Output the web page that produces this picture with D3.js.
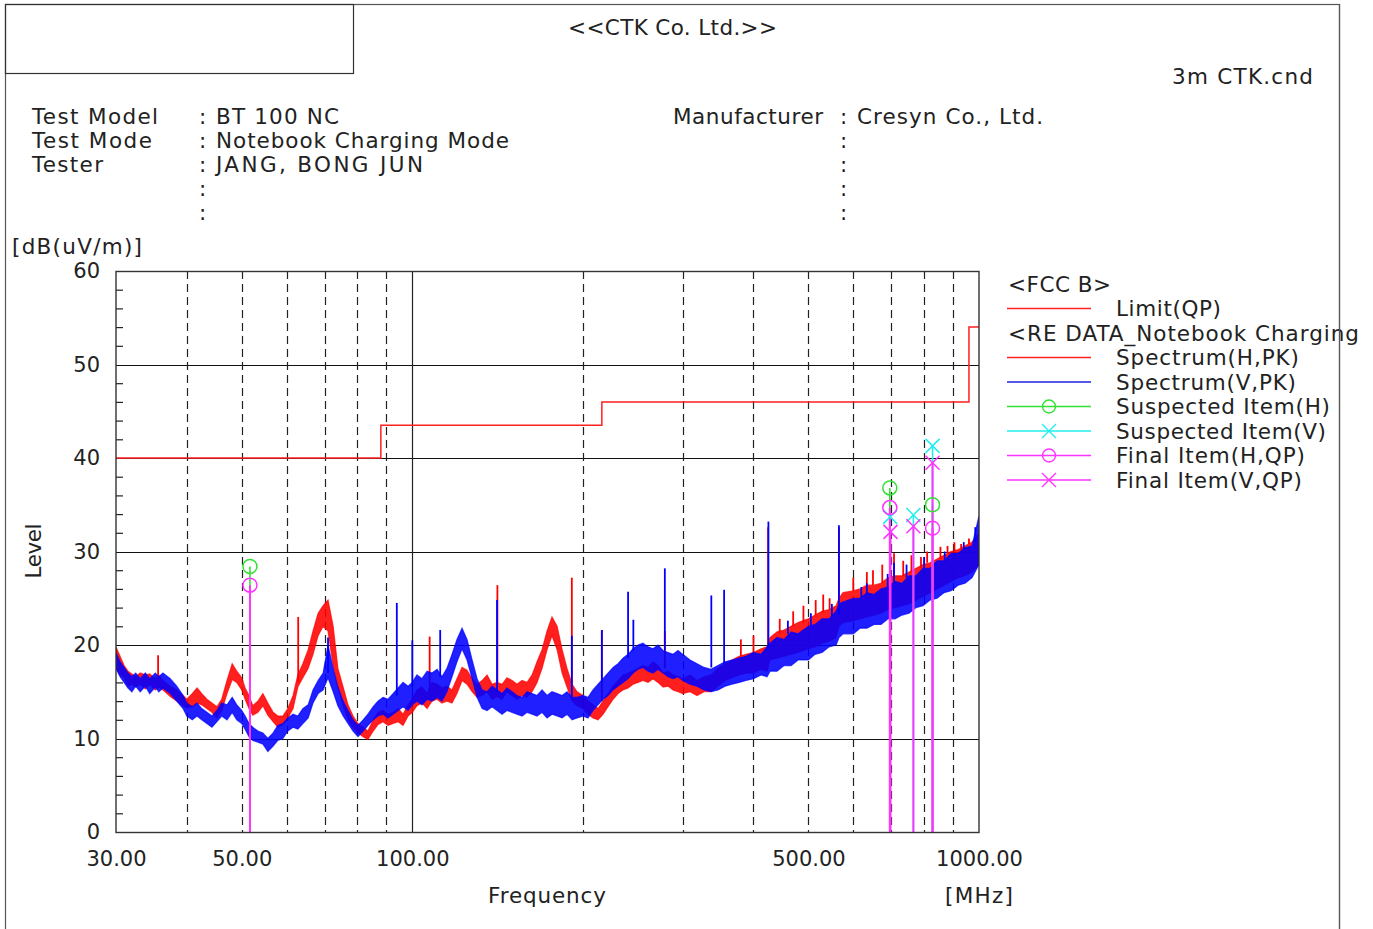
<!DOCTYPE html>
<html><head><meta charset="utf-8">
<script src="https://cdn.jsdelivr.net/npm/d3@7"></script>
<style>
body{margin:0;background:#fff;}
svg{display:block;}
text{font-family:"DejaVu Sans",sans-serif;fill:#222;}
</style>
</head><body>
<svg id="c" width="1373" height="929"></svg>
<script>
// ---------- DATA ----------
const xTicks = [30, 50, 100, 500, 1000];
const yTicks = [0, 10, 20, 30, 40, 50, 60];
const yMinor = [2,4,6,8,12,14,16,18,22,24,26,28,32,34,36,38,42,44,46,48,52,54,56,58];
const xGridDashed = [40,50,60,70,80,90,200,300,400,500,600,700,800,900];
const xGridSolid = [100];
const yGridSolid = [10,20,30,40,50];

// FCC B limit (QP): [MHz, dB]
const limitQP = [[30,40],[88,40],[88,43.5],[216,43.5],[216,46],[960,46],[960,54],[1000,54]];

// Spectrum noise envelope: [MHz, low dB, high dB]
const specH = [
[30.0,17.5,19.8],[30.5,16.8,18.8],[31.0,16.5,17.8],[31.5,15.6,17.2],[32.0,15.8,16.9],[32.5,15.5,16.6],[33.1,15.8,17.0],[33.8,15.3,16.8],[34.4,15.8,16.9],[35.2,15.2,16.4],
[35.7,15.5,16.8],[36.3,15.2,16.2],[37.4,14.5,15.6],[38.4,14.0,15.2],[39.4,13.5,14.6],[40.0,13.3,14.2],[40.9,13.4,14.8],[41.7,13.8,15.4],[42.5,13.6,14.8],[43.4,13.2,14.2],
[44.3,12.8,13.8],[45.2,12.2,13.4],[46.1,13.0,14.2],[47.1,14.8,16.2],[48.1,16.3,18.0],[49.0,16.0,17.2],[50.0,15.2,16.5],[50.7,14.2,15.4],[51.5,13.2,14.6],[52.3,12.5,13.5],
[53.4,12.8,14.0],[54.5,13.5,14.8],[55.6,12.5,13.8],[56.8,11.8,12.8],[57.9,11.2,12.4],[59.1,11.5,12.4],[60.3,12.2,13.2],[61.6,13.2,14.6],[62.8,15.5,16.8],[64.1,16.5,18.0],
[65.5,17.5,19.5],[66.8,19.0,21.5],[68.2,21.0,23.4],[69.6,22.0,24.2],[71.0,21.5,24.8],[72.5,17.8,22.0],[73.9,15.5,17.5],[75.5,13.5,15.5],[77.0,12.0,13.6],[78.6,11.2,12.4],
[80.2,10.6,11.6],[81.9,10.2,11.2],[83.5,9.9,10.8],[85.3,10.8,12.0],[87.0,11.5,12.8],[88.8,11.8,13.0],[90.6,11.4,12.6],[92.5,11.6,12.8],[94.4,11.8,13.2],[96.3,11.4,12.6],
[98.3,12.4,13.6],[100,12.8,14.2],[101.9,13.5,15.2],[104.0,13.8,15.5],[106.2,13.2,14.8],[108.3,14.0,16.0],[110.6,14.2,15.8],[112.8,13.8,15.4],[115.1,14.0,15.6],[117.5,13.8,15.2],
[119.9,14.8,16.4],[122.4,16.2,17.6],[124.9,15.8,17.3],[127.5,15.0,16.4],[130.1,14.4,15.8],[132.8,14.6,16.2],[135.5,15.0,16.8],[138.3,14.2,15.8],[141.1,14.5,16.0],[144.0,14.2,15.8],
[146.9,15.0,16.5],[150.0,14.6,16.2],[153.0,14.2,15.8],[156.2,14.6,16.2],[159.4,14.4,16.0],[162.7,15.0,16.8],[166.0,16.0,18.2],[169.4,17.5,19.5],[172.9,19.5,21.5],[176.4,21.0,23.0],
[180.1,19.5,22.0],[183.8,17.0,19.5],[187.5,15.5,17.5],[191.4,14.0,15.8],[195.3,13.5,15.0],[200,13.2,14.6],[204.2,12.6,14.0],[208.4,12.2,13.6],[212.7,12.0,13.2],[217.1,12.6,14.0],
[221.5,13.4,14.8],[226.1,14.2,15.6],[230.7,14.8,16.2],[235.4,15.2,16.8],[240.3,15.4,17.0],[245.2,15.8,17.2],[250.2,16.0,17.5],[255.3,16.2,17.8],[260.6,16.0,17.6],[265.9,16.4,18.2],
[271.4,16.0,17.8],[277.0,15.5,17.0],[282.7,15.6,17.2],[288.5,15.2,16.8],[294.4,15.0,16.6],[300,14.8,16.4],[309.1,15.0,16.8],[318.0,14.6,16.2],[327.2,15.0,16.6],[336.6,15.0,16.8],
[346.3,15.6,17.5],[356.3,16.2,18.0],[366.6,16.5,18.4],[377.2,16.8,18.8],[388.1,17.0,19.0],[400,17.0,19.2],[412.5,17.4,19.6],[422.7,17.2,19.8],[427.8,18.4,20.8],[440.2,18.6,21.4],
[452.9,18.8,21.6],[466.0,19.0,22.0],[479.4,19.2,22.4],[500,19.6,22.8],[513.7,19.8,23.2],[528.5,20.2,23.6],[543.8,20.4,23.8],[559.5,20.8,24.2],[566.2,22.0,25.0],[575.5,22.4,25.6],
[600,22.6,25.8],[616.6,22.8,26.0],[634.4,23.0,26.4],[652.7,23.2,26.4],[671.6,23.4,26.6],[691.0,23.8,27.2],[711.0,24.0,27.4],[731.5,24.2,27.4],[752.6,24.4,27.8],[774.3,24.8,28.2],
[796.7,25.2,28.6],[819.6,25.6,28.8],[843.3,26.0,29.2],[867.7,26.4,29.6],[892.6,26.8,30.0],[918.4,27.2,30.2],[944.9,27.4,30.6],[972.2,27.8,31.0],[1000,28.6,32.0]
];
const specV = [
[30.0,17.5,19.2],[30.5,16.6,18.2],[31.0,16.0,17.6],[31.5,15.4,17.0],[32.0,15.0,16.6],[32.5,15.6,17.0],[33.1,15.0,16.4],[33.8,15.6,17.0],[34.4,14.8,16.4],[35.2,15.5,17.0],
[35.7,15.0,16.6],[36.3,15.4,17.0],[37.4,14.8,16.4],[38.4,14.0,15.6],[39.4,13.2,14.6],[40.0,12.4,13.8],[40.9,12.0,13.4],[41.7,12.4,13.8],[42.5,12.0,13.2],[43.4,11.6,12.8],
[44.3,11.2,12.4],[45.2,11.8,13.0],[46.1,12.4,13.8],[47.1,12.0,13.6],[48.1,12.8,14.4],[49.0,12.0,13.6],[50.0,11.6,13.0],[50.7,11.0,12.4],[51.5,10.2,11.6],[52.3,9.8,11.2],
[53.4,9.6,10.8],[54.5,9.4,10.6],[55.6,8.6,10.0],[56.8,9.2,10.6],[57.9,9.8,11.4],[59.1,10.0,11.6],[60.3,10.8,12.2],[61.6,11.2,12.6],[62.8,11.0,12.4],[64.1,11.6,13.2],
[65.5,12.2,13.6],[66.8,13.8,15.2],[68.2,14.8,16.2],[69.6,15.2,17.0],[71.0,16.5,20.0],[72.5,15.0,17.5],[73.9,13.5,15.5],[75.5,12.4,14.0],[77.0,11.6,13.0],[78.6,10.8,12.0],
[80.2,10.2,11.4],[81.9,10.8,12.0],[83.5,11.4,12.6],[85.3,12.0,13.4],[87.0,12.4,14.0],[88.8,12.6,14.4],[90.6,12.2,14.2],[92.5,12.6,14.8],[94.4,13.0,15.4],[96.3,13.4,16.0],
[98.3,13.0,15.6],[100,13.6,16.0],[101.9,14.0,16.8],[104.0,13.6,16.4],[106.2,14.2,17.2],[108.3,14.0,17.0],[110.6,14.4,17.4],[112.8,14.0,16.6],[115.1,15.0,17.5],[117.5,16.6,19.0],
[119.9,18.2,20.6],[122.4,19.6,21.8],[124.9,18.4,20.6],[127.5,16.4,18.4],[130.1,14.4,16.4],[132.8,13.2,15.2],[135.5,13.0,15.0],[138.3,13.4,15.6],[141.1,13.0,15.2],[144.0,12.6,14.8],
[146.9,13.0,15.4],[150.0,12.8,15.0],[153.0,12.6,14.6],[156.2,12.4,14.4],[159.4,12.8,15.0],[162.7,12.6,14.8],[166.0,12.4,14.6],[169.4,12.8,15.2],[172.9,12.2,14.6],[176.4,12.6,15.0],
[180.1,12.4,14.8],[183.8,12.2,14.6],[187.5,12.6,15.0],[191.4,12.0,14.4],[195.3,12.2,14.4],[200,12.4,14.6],[204.2,12.2,14.4],[208.4,13.0,15.2],[212.7,13.6,15.8],[217.1,14.2,16.4],
[221.5,14.6,17.0],[226.1,15.2,17.6],[230.7,15.6,18.0],[235.4,16.0,18.6],[240.3,16.4,19.0],[245.2,17.0,19.6],[250.2,17.4,20.0],[255.3,17.6,20.2],[260.6,17.2,19.8],[265.9,17.0,19.6],
[271.4,17.4,20.0],[277.0,17.0,19.4],[282.7,16.6,19.2],[288.5,16.4,19.0],[294.4,16.6,19.4],[300,16.2,19.0],[309.1,15.8,18.4],[318.0,15.6,18.0],[327.2,15.2,17.6],[336.6,15.0,17.4],
[346.3,15.2,17.8],[356.3,15.6,18.2],[366.6,15.8,18.4],[377.2,16.0,18.6],[388.1,16.2,18.8],[400,16.4,19.2],[412.5,16.8,19.0],[422.7,16.6,19.8],[427.8,17.2,20.2],[440.2,17.2,20.8],
[452.9,17.8,20.6],[466.0,17.8,21.4],[479.4,18.4,21.2],[500,18.4,22.0],[513.7,19.0,22.2],[528.5,19.2,22.8],[543.8,19.8,22.8],[559.5,20.0,23.6],[566.2,20.8,24.4],[575.5,21.2,24.6],
[600,21.2,25.0],[616.6,21.8,25.0],[634.4,21.8,25.6],[652.7,22.2,25.4],[671.6,22.2,26.0],[691.0,22.8,26.2],[711.0,22.8,26.8],[731.5,23.2,26.6],[752.6,23.4,27.4],[774.3,24.0,27.4],
[796.7,24.2,28.2],[819.6,24.8,28.2],[843.3,25.0,29.0],[867.7,25.6,29.0],[892.6,25.8,29.8],[918.4,26.4,29.8],[944.9,26.6,30.4],[972.2,27.2,30.6],[1000,28.6,33.8]
];

// Narrow spikes: [MHz, base dB, top dB]
const spikesH = [
[35.6,16.6,18.9],[62.9,16.0,23.0],[107.3,15.0,20.9],[141.3,16.0,26.4],[191.2,15.8,27.2],[216.0,14.0,21.6],
[279.0,17.5,21.5],[380.0,18.8,20.6],[400.0,19.2,21.0],[424.5,19.5,32.6],[445.0,21.2,22.8],[470.0,22.0,23.6],
[490.0,22.4,24.2],[515.0,23.2,24.8],[531.0,23.5,25.4],[545.0,23.8,25.0],[566.0,24.0,32.6],[600.0,25.8,27.2],
[634.0,26.2,27.8],[650.0,26.4,28.0],[675.0,26.6,28.6],[708.0,27.0,29.8],[735.0,27.4,29.0],[760.0,27.8,29.6],
[790.0,28.2,29.4],[810.0,28.8,30.0],[855.0,29.2,30.5],[880.0,29.8,30.6],[905.0,30.0,31.0],[930.0,30.2,30.8],[960.0,30.8,31.4]
];
const spikesV = [
[71.0,17.0,20.8],[93.9,14.6,24.5],[100.0,15.6,20.5],[112.0,16.6,21.6],[141.1,15.0,24.8],[191.2,14.4,21.0],
[216.0,16.0,21.6],[240.3,18.6,25.7],[245.5,19.4,22.7],[279.0,19.4,28.2],[337.0,17.6,25.3],[355.0,18.0,25.9],
[425.0,19.6,33.2],[460.0,21.2,22.6],[505.0,22.0,23.4],[550.0,23.0,24.4],[566.0,23.2,32.8],[620.0,25.0,26.2],
[634.0,25.4,26.6],[690.0,26.2,27.6],[708.0,26.6,28.8],[745.0,27.2,28.6],[800.0,28.2,29.4],[870.0,29.0,30.0],
[940.0,30.2,31.0],[985.0,31.0,32.6]
];

// Measured items: [MHz, dB]
const suspectedH = [[51.7,28.4],[696,36.8],[828,35.0]];
const suspectedV = [[697,33.7],[766,33.9],[828,41.3]];
const finalH = [[51.7,26.4],[696,34.7],[828,32.5]];
const finalV = [[698,32.1],[766,32.7],[828,39.5]];

const legendItems = [
  {type:'head', label:'<FCC B>'},
  {type:'line', color:'#ff2020', label:'Limit(QP)'},
  {type:'head', label:'<RE DATA_Notebook Charging'},
  {type:'line', color:'#ff2020', label:'Spectrum(H,PK)'},
  {type:'line', color:'#2020e0', label:'Spectrum(V,PK)'},
  {type:'circle', color:'#33e033', label:'Suspected Item(H)'},
  {type:'cross', color:'#22eeee', label:'Suspected Item(V)'},
  {type:'circle', color:'#ff33ff', label:'Final Item(H,QP)'},
  {type:'cross', color:'#ff33ff', label:'Final Item(V,QP)'}
];

// ---------- DRAW ----------
const svg = d3.select('#c');
const L=116, R=979, T=271, B=832;
const x = d3.scaleLog().domain([30,1000]).range([L,R]);
const y = d3.scaleLinear().domain([0,60]).range([B,T]);

// page frame
svg.append('rect').attr('x',5.5).attr('y',4.5).attr('width',1334).attr('height',960)
  .attr('fill','none').attr('stroke','#555').attr('stroke-width',1.2);
svg.append('rect').attr('x',5.5).attr('y',4.5).attr('width',348).attr('height',69)
  .attr('fill','none').attr('stroke','#333').attr('stroke-width',1.2);

const FS = 21.5;
function txt(s, tx, ty, size, len, anchor){
  const t = svg.append('text').attr('x',tx).attr('y',ty).attr('font-size',size).text(s);
  if(len){ t.attr('textLength',len).attr('lengthAdjust','spacing'); }
  if(anchor) t.attr('text-anchor',anchor);
  return t;
}
// header
txt('<<CTK Co. Ltd.>>',568,35,FS,209);
txt('3m CTK.cnd',1172,84,FS,141);
txt('Test Model',32,124,FS,126);
txt('Test Mode',32,148,FS,120);
txt('Tester',32,172,FS,71);
[124,148,172,196,220].forEach(v=>txt(':',199,v,FS));
txt('BT 100 NC',216,124,FS,123);
txt('Notebook Charging Mode',216,148,FS,293);
txt('JANG, BONG JUN',216,172,FS,207);
txt('Manufacturer',673,124,FS,150);
[124,148,172,196,220].forEach(v=>txt(':',840,v,FS));
txt('Cresyn Co., Ltd.',857,124,FS,186);

// unit labels
txt('[dB(uV/m)]',12,254,FS,130);
svg.append('text').attr('transform','translate(41,551) rotate(-90)').attr('text-anchor','middle')
  .attr('font-size',FS).attr('textLength',55).attr('lengthAdjust','spacing').text('Level');
txt('Frequency',547,903,FS,118,'middle');
txt('[MHz]',979,903,FS,68,'middle');

// grid
const g = svg.append('g');
g.selectAll('.hg').data(yGridSolid).join('line')
  .attr('x1',L).attr('x2',R).attr('y1',d=>Math.round(y(d))+0.5).attr('y2',d=>Math.round(y(d))+0.5)
  .attr('stroke','#111').attr('stroke-width',1.2);
g.selectAll('.vd').data(xGridDashed).join('line')
  .attr('x1',d=>Math.round(x(d))+0.5).attr('x2',d=>Math.round(x(d))+0.5).attr('y1',T).attr('y2',B)
  .attr('stroke','#222').attr('stroke-width',1.2).attr('stroke-dasharray','8,5');
g.selectAll('.vs').data(xGridSolid).join('line')
  .attr('x1',d=>Math.round(x(d))+0.5).attr('x2',d=>Math.round(x(d))+0.5).attr('y1',T).attr('y2',B)
  .attr('stroke','#222').attr('stroke-width',1.2);

// axes
const ya = svg.append('g').attr('transform',`translate(${L},0)`)
  .call(d3.axisLeft(y).tickValues(yTicks).tickSize(0).tickPadding(16));
ya.select('.domain').remove();
ya.selectAll('text').attr('font-size',21).attr('font-family','DejaVu Sans').attr('fill','#222');
const ym = svg.append('g').attr('transform',`translate(${L},0)`)
  .call(d3.axisLeft(y).tickValues(yMinor).tickSize(-7).tickFormat(''));
ym.select('.domain').remove();
ym.selectAll('line').attr('stroke','#222').attr('stroke-width',1.2);
const xa = svg.append('g').attr('transform',`translate(0,${B})`)
  .call(d3.axisBottom(x).tickValues(xTicks).tickFormat(d3.format('.2f')).tickSize(0).tickPadding(19));
xa.select('.domain').remove();
xa.selectAll('text').attr('font-size',21).attr('font-family','DejaVu Sans').attr('fill','#222');

// clip
svg.append('clipPath').attr('id','pc').append('rect').attr('x',L).attr('y',T).attr('width',R-L).attr('height',B-T);
const plot = svg.append('g').attr('clip-path','url(#pc)');

// limit
plot.append('path').datum(limitQP)
  .attr('d',d3.line().x(d=>x(d[0])).y(d=>y(d[1])))
  .attr('fill','none').attr('stroke','#ff2020').attr('stroke-width',1.5);

function drawSpectrum(rows, spikes, color){
  const grp = plot.append('g');
  grp.append('path').datum(rows)
    .attr('d',d3.area().x(d=>x(d[0])).y0(d=>y(d[1])).y1(d=>y(d[2])))
    .attr('fill',color).attr('fill-opacity',0.88).attr('stroke','none');
  const hiL = d3.line().x(d=>x(d[0])).y(d=>y(d[2]));
  const loL = d3.line().x(d=>x(d[0])).y(d=>y(d[1]));
  grp.append('path').datum(rows).attr('d',hiL).attr('fill','none').attr('stroke',color)
    .attr('stroke-width',1.2).attr('stroke-opacity',0.7);
  grp.append('path').datum(rows).attr('d',loL).attr('fill','none').attr('stroke',color)
    .attr('stroke-width',1.2).attr('stroke-opacity',0.7);
  grp.selectAll('.sp').data(spikes).join('line')
    .attr('x1',d=>x(d[0])).attr('x2',d=>x(d[0])).attr('y1',d=>y(d[1])).attr('y2',d=>y(d[2]))
    .attr('stroke',color).attr('stroke-width',1.8);
}
drawSpectrum(specH, spikesH, '#ff0000');
drawSpectrum(specV, spikesV, '#0000ff');

// item stems
function stems(data, color, w){
  plot.selectAll(null).data(data).join('line')
    .attr('x1',d=>x(d[0])).attr('x2',d=>x(d[0])).attr('y1',B).attr('y2',d=>y(d[1]))
    .attr('stroke',color).attr('stroke-width',w);
}
stems(suspectedH,'#33e033',1.6);
stems(suspectedV,'#22eeee',1.6);
stems(finalH,'#ff33ff',2);
stems(finalV,'#ff33ff',2);

function circles(data,color){
  svg.selectAll(null).data(data).join('circle')
    .attr('cx',d=>x(d[0])).attr('cy',d=>y(d[1])).attr('r',7)
    .attr('fill','none').attr('stroke',color).attr('stroke-width',1.5);
}
function crosses(data,color){
  const s=7;
  svg.selectAll(null).data(data).join('path')
    .attr('d',d=>{const cx=x(d[0]),cy=y(d[1]);return `M${cx-s},${cy-s}L${cx+s},${cy+s}M${cx-s},${cy+s}L${cx+s},${cy-s}`;})
    .attr('fill','none').attr('stroke',color).attr('stroke-width',1.5);
}
circles(suspectedH,'#33e033');
crosses(suspectedV,'#22eeee');
circles(finalH,'#ff33ff');
crosses(finalV,'#ff33ff');

// plot border
svg.append('rect').attr('x',L).attr('y',T+0.5).attr('width',R-L).attr('height',B-T)
  .attr('fill','none').attr('stroke','#333').attr('stroke-width',1.4);

// legend
const legW = {'<FCC B>':103,'Limit(QP)':105,'<RE DATA_Notebook Charging':351,'Spectrum(H,PK)':183,'Spectrum(V,PK)':180,
  'Suspected Item(H)':214,'Suspected Item(V)':210,'Final Item(H,QP)':189,'Final Item(V,QP)':186};
const lg = svg.append('g');
legendItems.forEach((it,i)=>{
  const cy = 284 + i*24.5;
  if(it.type==='head'){
    lg.append('text').attr('x',1008).attr('y',cy+7.5).attr('font-size',FS)
      .attr('textLength',legW[it.label]).attr('lengthAdjust','spacing').text(it.label);
  } else {
    lg.append('line').attr('x1',1007).attr('x2',1091).attr('y1',cy).attr('y2',cy)
      .attr('stroke',it.color).attr('stroke-width',1.3);
    if(it.type==='circle') lg.append('circle').attr('cx',1049).attr('cy',cy).attr('r',6.5)
      .attr('fill','none').attr('stroke',it.color).attr('stroke-width',1.4);
    if(it.type==='cross') lg.append('path')
      .attr('d',`M1042,${cy-7}L1056,${cy+7}M1042,${cy+7}L1056,${cy-7}`)
      .attr('fill','none').attr('stroke',it.color).attr('stroke-width',1.4);
    lg.append('text').attr('x',1116).attr('y',cy+7.5).attr('font-size',FS)
      .attr('textLength',legW[it.label]).attr('lengthAdjust','spacing').text(it.label);
  }
});
// right frame line drawn over legend text (as in reference)
svg.append('line').attr('x1',1339.5).attr('x2',1339.5).attr('y1',4).attr('y2',929).attr('stroke','#555').attr('stroke-width',1.2);
</script>
</body></html>
